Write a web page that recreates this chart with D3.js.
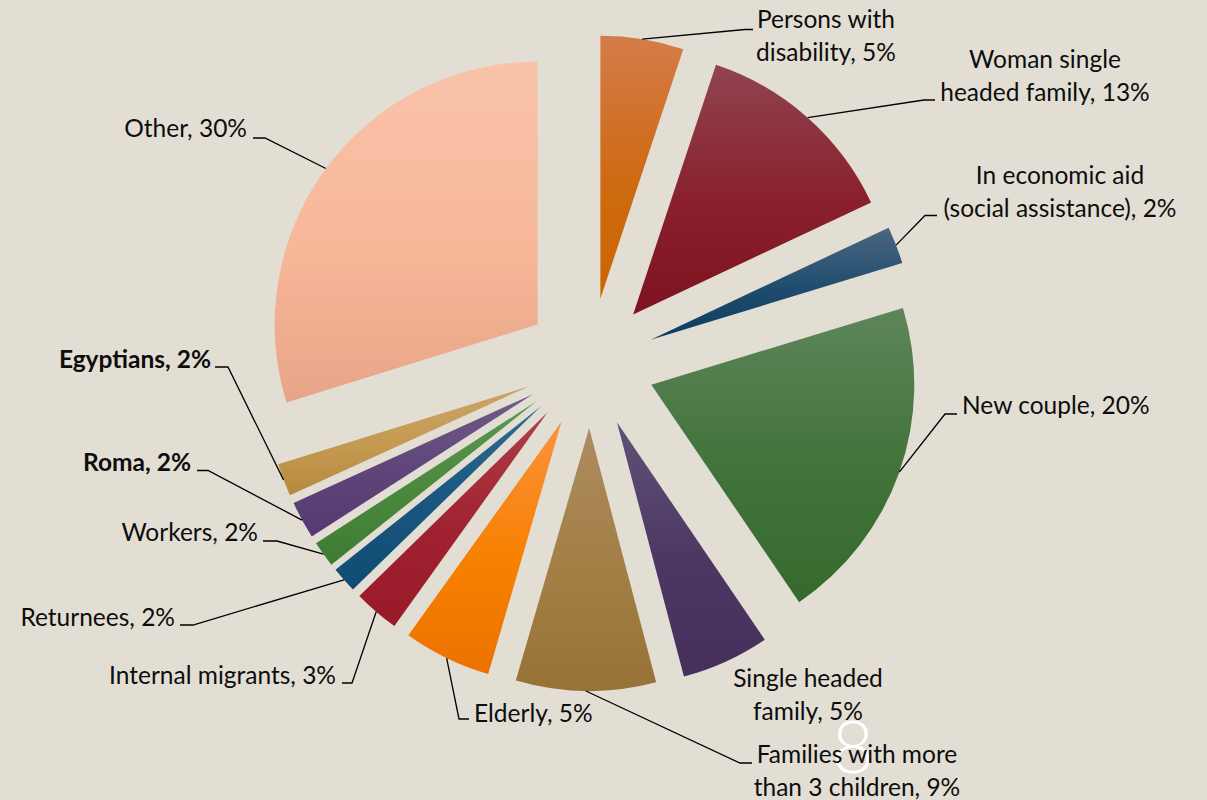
<!DOCTYPE html>
<html>
<head>
<meta charset="utf-8">
<script src="https://cdn.jsdelivr.net/npm/d3@7"></script>
<style>
  html, body { margin: 0; padding: 0; background: #E3DED3; }
  svg { display: block; }
</style>
</head>
<body>
<svg id="chart" width="1207" height="800"></svg>
<script>
// ---- data ----
const categories = [
  "Persons with disability",
  "Woman single headed family",
  "In economic aid (social assistance)",
  "New couple",
  "Single headed family",
  "Families with more than 3 children",
  "Elderly",
  "Internal migrants",
  "Returnees",
  "Workers",
  "Roma",
  "Egyptians",
  "Other"
];
const values = [5.1, 12.9, 2.3, 20.2, 5.4, 8.6, 5.4, 2.8, 1.6, 1.6, 2.3, 2.0, 29.8];
const boldLabels = ["Roma", "Egyptians"];
const pageNumber = "8";

// ---- styles ----
const gradColors = [
  ["#D47C4A", "#CE6A12", "#CC6600"],
  ["#904450", "#89202C", "#7E1220"],
  ["#4A6680", "#1F4C6E", "#0B3D5E"],
  ["#5E855B", "#41733A", "#366A2C"],
  ["#5F5276", "#4C3762", "#45305C"],
  ["#AC8B60", "#A37F45", "#967236"],
  ["#FA923E", "#F88000", "#EB7200"],
  ["#AE3E4A", "#A02230", "#981A28"],
  ["#2E6C92", "#19557F", "#0F4C73"],
  ["#5E9653", "#4A883D", "#3E7C33"],
  ["#715C8A", "#5E4479", "#543A70"],
  ["#CBA468", "#C49950", "#B7893E"],
  ["#F8C3AA", "#F7B799", "#E8A488"]
];

// ---- layout ----
const W = 1207, H = 800;
const cx = 590, cy = 363, R = 263, explode = 65;
const fontFamily = "Lato, 'Open Sans', sans-serif";
const fontSize = 24.5;
const lineH = 33;
// label layout: text anchor position (first baseline), words on first line, leader elbow & end
const labelLayout = [
  {x: 826, y: 28, anchor: "middle", split: 2, elbow: [745, 29.5], end: [753, 29.5]},
  {x: 1045, y: 68, anchor: "middle", split: 2, elbow: [924, 100], end: [935, 100]},
  {x: 1060, y: 184, anchor: "middle", split: 3, elbow: [925, 215.5], end: [937, 215.5]},
  {x: 962, y: 414, anchor: "start", split: 0, elbow: [945, 414], end: [957, 414]},
  {x: 808, y: 687, anchor: "middle", split: 2, elbow: null, end: null},
  {x: 857, y: 763, anchor: "middle", split: 3, elbow: [740, 763], end: [752, 763]},
  {x: 474, y: 722, anchor: "start", split: 0, elbow: [459, 719], end: [469, 719]},
  {x: 336, y: 684, anchor: "end", split: 0, elbow: [352, 683], end: [342, 683]},
  {x: 175, y: 626, anchor: "end", split: 0, elbow: [193, 625], end: [180, 625]},
  {x: 258, y: 541, anchor: "end", split: 0, elbow: [277, 541], end: [263, 541]},
  {x: 191, y: 471, anchor: "end", split: 0, elbow: [208, 470.5], end: [197, 470.5]},
  {x: 211, y: 368, anchor: "end", split: 0, elbow: [228, 367], end: [215, 367]},
  {x: 247, y: 137, anchor: "end", split: 0, elbow: [265, 138], end: [253, 138]}
];

const svg = d3.select("#chart");
svg.append("rect").attr("width", W).attr("height", H).attr("fill", "#E3DED3");

const defs = svg.append("defs");
gradColors.forEach((c, i) => {
  const g = defs.append("linearGradient").attr("id", "g" + i)
    .attr("x1", 0).attr("y1", 0).attr("x2", 0).attr("y2", 1);
  g.append("stop").attr("offset", "0%").attr("stop-color", c[0]);
  g.append("stop").attr("offset", "55%").attr("stop-color", c[1]);
  g.append("stop").attr("offset", "100%").attr("stop-color", c[2]);
});

const pie = d3.pie().sort(null).value(d => d.value).startAngle(0).endAngle(2 * Math.PI);
const data = categories.map((name, i) => ({name, value: values[i], i}));
const arcs = pie(data);
const arc = d3.arc().innerRadius(0).outerRadius(R);
const edgeArc = d3.arc().innerRadius(R + explode).outerRadius(R + explode);

const g = svg.append("g").attr("transform", `translate(${cx},${cy})`);

g.selectAll("path.slice").data(arcs).join("path")
  .attr("class", "slice")
  .attr("d", arc)
  .attr("fill", d => `url(#g${d.data.i})`)
  .attr("transform", d => {
    const m = (d.startAngle + d.endAngle) / 2;
    return `translate(${explode * Math.sin(m)},${-explode * Math.cos(m)})`;
  });

// page number
svg.append("text")
  .attr("x", 853).attr("y", 773)
  .attr("text-anchor", "middle")
  .attr("font-family", fontFamily)
  .attr("font-weight", 300)
  .attr("font-size", 73)
  .attr("fill", "#FFFFFF")
  .text(pageNumber);

// leader lines
arcs.forEach(d => {
  const L = labelLayout[d.data.i];
  if (!L.elbow) return;
  const p = edgeArc.centroid(d);
  const start = [cx + p[0], cy + p[1]];
  svg.append("path")
    .attr("d", d3.line()([start, L.elbow, L.end]))
    .attr("fill", "none")
    .attr("stroke", "#000")
    .attr("stroke-width", 1.3);
});

// labels
arcs.forEach(d => {
  const L = labelLayout[d.data.i];
  const full = `${d.data.name}, ${Math.round(d.data.value)}%`;
  const words = full.split(" ");
  const lines = L.split ? [words.slice(0, L.split).join(" "), words.slice(L.split).join(" ")] : [full];
  const t = svg.append("text")
    .attr("font-family", fontFamily)
    .attr("font-size", fontSize)
    .attr("font-weight", boldLabels.includes(d.data.name) ? "bold" : "normal")
    .attr("fill", "#0D0D0D")
    .attr("text-anchor", L.anchor);
  lines.forEach((ln, k) => {
    t.append("tspan").attr("x", L.x).attr("y", L.y + k * lineH).text(ln);
  });
});
</script>
</body>
</html>
